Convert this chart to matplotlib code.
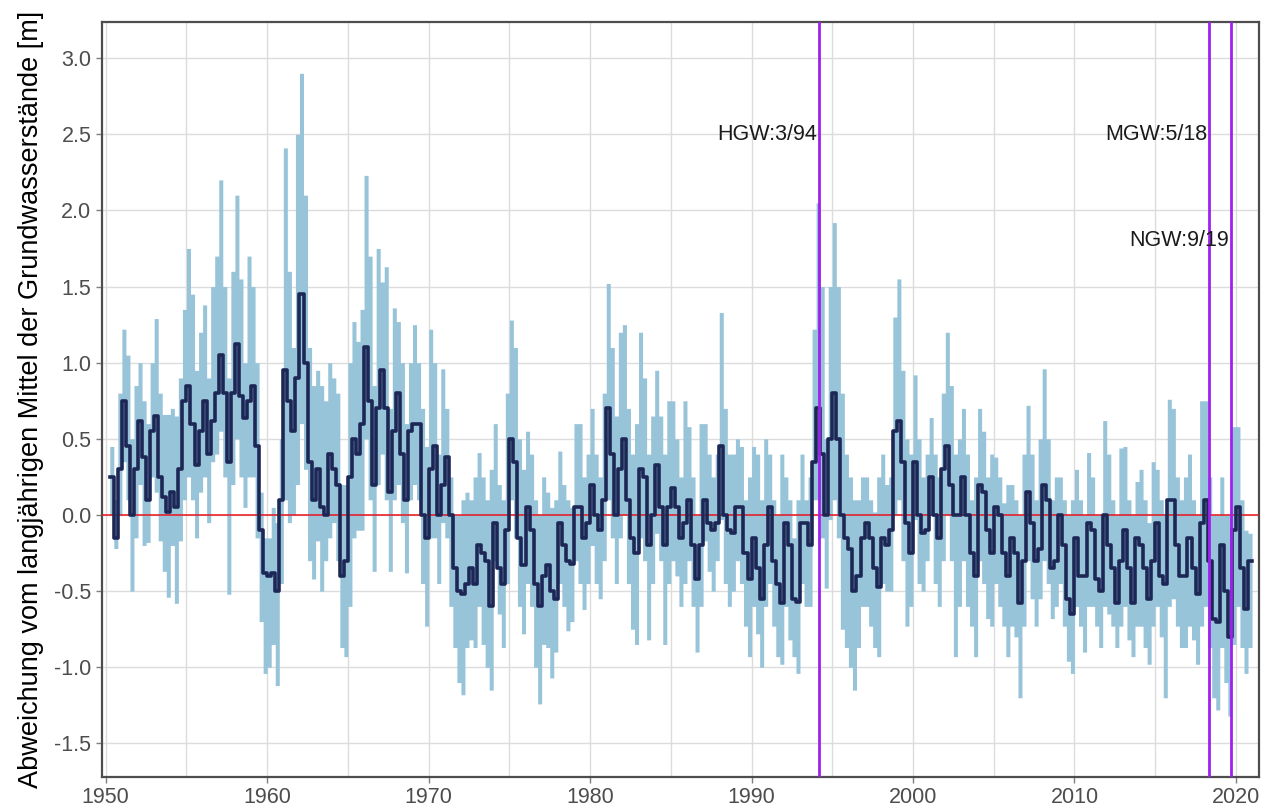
import numpy as np
import matplotlib
matplotlib.use("Agg")
import matplotlib.pyplot as plt
from matplotlib.ticker import MultipleLocator

plt.rcParams['font.family'] = ['Liberation Sans', 'DejaVu Sans']
plt.rcParams['axes.unicode_minus'] = False

# quarterly values, first quarter starts 1950.25 (Q2 1950), last ends 2021.0
start_year = 1950.25
median = [
    0.25, -0.15, 0.3,
    0.75, 0.45, 0.0, 0.3,   0.62, 0.38, 0.1, 0.55,   0.65, 0.25, 0.12, 0.02,
    0.15, 0.05, 0.3, 0.75,  0.85, 0.6, 0.33, 0.55,   0.75, 0.4, 0.62, 0.8,
    1.05, 0.8, 0.35, 0.8,   1.12, 0.78, 0.64, 0.75,  0.85, 0.45, -0.1, -0.38,
    -0.4, -0.38, -0.5, 0.1, 0.95, 0.75, 0.55, 0.9,   1.45, 1.0, 0.35, 0.1,
    0.3, 0.05, 0.0, 0.4,    0.3, 0.2, -0.4, -0.3,    0.25, 0.5, 0.4, 0.6,
    1.1, 0.75, 0.2, 0.7,    0.95, 0.7, 0.15, 0.55,   0.8, 0.4, 0.1, 0.55,
    0.6, 0.6, 0.0, -0.15,   0.3, 0.45, 0.0, 0.2,     0.38, 0.0, -0.35, -0.5,
    -0.52, -0.45, -0.35, -0.45, -0.2, -0.25, -0.3, -0.6, -0.05, -0.35, -0.45, -0.1,
    0.5, 0.35, -0.15, -0.33, 0.05, -0.1, -0.45, -0.6, -0.4, -0.33, -0.5, -0.55,
    -0.05, -0.2, -0.3, -0.32, 0.05, 0.05, -0.15, -0.05, 0.2, 0.0, -0.1, 0.1,
    0.7, 0.4, 0.0, 0.3,     0.5, 0.1, -0.15, -0.25,  0.3, 0.25, -0.2, 0.0,
    0.33, 0.05, -0.2, 0.05, 0.18, 0.05, -0.15, -0.05, 0.1, -0.2, -0.42, -0.2,
    0.1, -0.05, -0.1, -0.05, 0.45, 0.0, -0.1, -0.12, 0.05, 0.05, -0.25, -0.42,
    -0.15, -0.35, -0.55, -0.2, 0.05, -0.3, -0.45, -0.58, -0.05, -0.2, -0.55, -0.57,
    -0.05, -0.05, -0.2, 0.35, 0.7, 0.4, 0.0, 0.5,    0.8, 0.5, 0.0, -0.15,
    -0.22, -0.5, -0.4, -0.15, -0.05, -0.15, -0.35, -0.47, -0.15, -0.2, -0.1, 0.55,
    0.62, 0.35, -0.05, -0.25, 0.35, 0.0, -0.12, -0.1, 0.25, 0.0, -0.15, 0.3,
    0.45, 0.2, 0.0, 0.0,    0.25, 0.0, -0.25, -0.4,  0.2, 0.15, -0.1, -0.25,
    0.05, 0.0, -0.25, -0.4, -0.15, -0.25, -0.58, -0.3, 0.15, -0.05, -0.3, -0.22,
    0.2, 0.1, -0.35, -0.3,  0.0, -0.2, -0.55, -0.65, -0.15, -0.4, -0.4, -0.05,
    -0.1, -0.42, -0.5, 0.0, -0.2, -0.35, -0.58, -0.3, -0.1, -0.35, -0.58, -0.15,
    -0.2, -0.35, -0.55, -0.3, -0.05, -0.4, -0.45, 0.1, 0.1, -0.2, -0.4, -0.4,
    -0.15, -0.35, -0.52, -0.05, 0.1, -0.3, -0.68, -0.7, -0.2, -0.5, -0.8, -0.1,
    0.05, -0.35, -0.62, -0.3,
]
upper = [
    0.45, 0.1, 0.8,
    1.22, 1.05, 0.5, 0.85,  1.0, 0.75, 0.6, 1.0,     1.29, 0.8, 0.66, 0.66,
    0.7, 0.65, 0.9, 1.35,   1.75, 1.45, 0.95, 1.2,   1.38, 0.9, 1.5, 1.7,
    2.2, 1.5, 0.9, 1.6,     2.1, 1.55, 1.0, 1.7,     1.5, 1.0, 0.15, -0.15,
    -0.15, 0.05, -0.05, 0.5, 2.41, 1.6, 1.1, 2.5,    2.9, 2.1, 1.1, 0.85,
    0.95, 0.85, 0.75, 1.0,  0.9, 0.8, 0.2, 0.2,      1.0, 1.27, 1.14, 1.35,
    2.23, 1.7, 0.85, 1.75,  1.53, 1.63, 0.7, 1.36,   1.27, 1.0, 0.6, 1.0,
    1.25, 1.0, 0.7, 0.45,   1.22, 1.0, 0.4, 0.96,    0.7, 0.25, 0.0, 0.0,
    0.1, 0.15, 0.1, 0.25,   0.41, 0.25, 0.1, 0.3,    0.6, 0.2, 0.1, 0.8,
    1.28, 1.1, 0.5, 0.3,    0.55, 0.4, 0.1, 0.0,     0.25, 0.15, 0.05, 0.1,
    0.42, 0.2, 0.1, 0.05,   0.6, 0.6, 0.25, 0.4,     0.7, 0.4, 0.25, 0.8,
    1.52, 1.1, 0.65, 1.2,   1.25, 0.7, 0.4, 0.6,     1.2, 0.9, 0.4, 0.65,
    0.95, 0.65, 0.4, 0.75,  0.75, 0.5, 0.25, 0.75,   0.58, 0.25, 0.0, 0.6,
    0.6, 0.4, 0.25, 0.4,    1.33, 0.7, 0.4, 0.4,     0.5, 0.45, 0.1, 0.25,
    0.45, 0.4, 0.1, 0.5,    0.4, 0.1, 0.0, 0.4,      0.25, 0.1, -0.15, 0.1,
    0.4, 0.1, 0.25, 1.22,   2.05, 1.5, 0.5, 1.5,     1.92, 1.5, 0.8, 0.4,
    0.25, 0.1, 0.1, 0.25,   0.25, 0.1, 0.02, 0.25,   0.4, 0.2, 0.25, 1.3,
    1.55, 0.95, 0.5, 0.4,   0.92, 0.5, 0.25, 0.4,    0.64, 0.4, 0.25, 0.8,
    1.2, 0.85, 0.4, 0.5,    0.7, 0.4, 0.1, 0.25,     0.7, 0.55, 0.25, 0.4,
    0.38, 0.25, 0.08, 0.2,  0.2, 0.1, 0.0, 0.4,      0.72, 0.4, 0.1, 0.5,
    0.96, 0.5, 0.1, 0.25,   0.25, 0.1, 0.0, 0.1,     0.3, 0.1, 0.0, 0.41,
    0.25, 0.0, 0.0, 0.62,   0.4, 0.1, 0.0, 0.44,     0.45, 0.1, 0.0, 0.22,
    0.3, 0.1, -0.05, 0.35,  0.3, 0.1, 0.0, 0.76,     0.7, 0.25, 0.1, 0.25,
    0.4, 0.1, 0.0, 0.75,    0.75, 0.25, 0.0, 0.0,    0.25, 0.0, 0.0, 0.58,
    0.58, 0.1, -0.1, -0.12,
]
lower = [
    0.0, -0.22, 0.0,
    0.35, 0.1, -0.5, -0.15, 0.2, -0.2, -0.18, 0.25,  0.15, -0.17, -0.37, -0.54,
    -0.2, -0.58, -0.17, 0.1, 0.25, 0.1, -0.15, 0.15, 0.25, -0.05, 0.35, 0.4,
    0.55, 0.25, -0.52, 0.2, 0.5, 0.25, 0.05, 0.25,   0.25, -0.15, -0.7, -1.04,
    -1.0, -0.85, -1.12, -0.45, 0.1, -0.05, 0.0, 0.2, 0.6, 0.3, -0.3, -0.42,
    -0.17, -0.5, -0.3, -0.15, -0.05, -0.3, -0.87, -0.93, -0.6, -0.15, -0.1, -0.1,
    0.5, 0.1, -0.37, 0.2,   0.4, 0.1, -0.37, 0.1,    0.2, -0.05, -0.38, 0.1,
    0.2, 0.1, -0.45, -0.73, -0.15, -0.15, -0.45, -0.05, -0.15, -0.6, -0.87, -1.1,
    -1.18, -0.87, -0.82, -0.87, -0.6, -0.85, -1.0, -1.15, -0.3, -0.65, -0.87, -0.45,
    0.1, -0.15, -0.6, -0.78, -0.45, -0.6, -1.0, -1.24, -0.85, -0.87, -1.07, -0.9,
    -0.45, -0.6, -0.76, -0.7, -0.3, -0.45, -0.62, -0.45, -0.2, -0.45, -0.55, -0.3,
    0.1, -0.15, -0.45, -0.15, 0.0, -0.45, -0.75, -0.85, -0.15, -0.3, -0.82, -0.45,
    -0.12, -0.3, -0.85, -0.45, -0.3, -0.4, -0.6, -0.45, -0.3, -0.6, -0.9, -0.6,
    -0.17, -0.37, -0.5, -0.3, -0.03, -0.45, -0.6, -0.5, -0.3, -0.45, -0.73, -0.93,
    -0.6, -0.78, -1.0, -0.6, -0.45, -0.73, -0.93, -0.98, -0.6, -0.82, -0.93, -1.04,
    -0.45, -0.6, -0.6, 0.1, 0.1, -0.15, -0.48, -0.03, 0.1, -0.15, -0.75, -0.87,
    -1.0, -1.15, -0.87, -0.6, -0.6, -0.73, -0.87, -0.93, -0.45, -0.5, -0.5, 0.0,
    0.1, -0.3, -0.73, -0.6, -0.03, -0.45, -0.5, -0.3, 0.0, -0.45, -0.6, -0.3,
    0.0, -0.3, -0.93, -0.6, -0.3, -0.6, -0.73, -0.93, -0.3, -0.45, -0.68, -0.73,
    -0.45, -0.6, -0.73, -0.93, -0.73, -0.8, -1.2, -0.73, -0.3, -0.55, -0.73, -0.55,
    -0.3, -0.45, -0.68, -0.6, -0.45, -0.73, -0.96, -1.04, -0.6, -0.73, -0.9, -0.6,
    -0.6, -0.73, -0.87, -0.6, -0.65, -0.73, -0.87, -0.73, -0.6, -0.82, -0.93, -0.73,
    -0.73, -0.87, -0.98, -0.73, -0.6, -0.8, -1.2, -0.6, -0.55, -0.73, -0.87, -0.87,
    -0.73, -0.82, -0.98, -0.73, -0.6, -0.87, -1.2, -1.28, -0.87, -1.1, -1.32, -0.85,
    -0.6, -0.87, -1.04, -0.87,
]

event_labels = ["HGW:3/94", "MGW:5/18", "NGW:9/19"]
event_dates = [1994 + 2 / 12, 2018 + 4 / 12, 2019 + 8 / 12]
event_label_y = [2.5, 2.5, 1.8]

y_ticks = [-1.5, -1.0, -0.5, 0.0, 0.5, 1.0, 1.5, 2.0, 2.5, 3.0]
x_ticks = [1950, 1960, 1970, 1980, 1990, 2000, 2010, 2020]

n = len(median)
t = start_year + 0.25 * np.arange(n + 1)
med_ext = np.append(median, median[-1])
up_ext = np.append(upper, upper[-1])
lo_ext = np.append(lower, lower[-1])

fig = plt.figure(figsize=(12.68, 8.09), dpi=100)
ax = fig.add_axes([0.0802, 0.0396, 0.9127, 0.9332])

ax.set_xlim(1949.75, 2021.43)
ax.set_ylim(-1.72, 3.237)

ax.set_axisbelow(True)
ax.xaxis.set_minor_locator(MultipleLocator(5))
ax.grid(True, which='major', color='#dcdcdc', linewidth=1.0)
ax.grid(True, which='minor', axis='x', color='#dcdcdc', linewidth=1.0)

ax.fill_between(t, lo_ext, up_ext, step='post', color='#98c4da', linewidth=0, zorder=2)
ax.axhline(0, color='#e8131b', linewidth=1.1, zorder=3)
ax.step(t, med_ext, where='post', color='#1d2756', linewidth=2.6, zorder=4)

for d, lab, ly in zip(event_dates, event_labels, event_label_y):
    ax.axvline(d, color='#a020f0', linewidth=2.0, zorder=5)
    ax.text(d - 0.1, ly, lab, ha='right', va='center', fontsize=15.5, color='#1a1a1a', zorder=6)

ax.set_yticks(y_ticks)
ax.set_yticklabels([f"{v:.1f}" for v in y_ticks])
ax.set_xticks(x_ticks)
ax.set_xticklabels([str(v) for v in x_ticks])
ax.tick_params(axis='both', which='major', labelsize=15.5, labelcolor='#4d4d4d',
               color='#7f7f7f', length=4, width=1)
ax.tick_params(axis='x', which='minor', length=0)

for s in ['left', 'bottom', 'top', 'right']:
    ax.spines[s].set_color('#4d4d4d')
    ax.spines[s].set_linewidth(1.6)

ax.set_ylabel("Abweichung vom langjährigen Mittel der Grundwasserstände [m]",
              fontsize=19.5, color='black', labelpad=7)

fig.savefig("out.png", dpi=100)
